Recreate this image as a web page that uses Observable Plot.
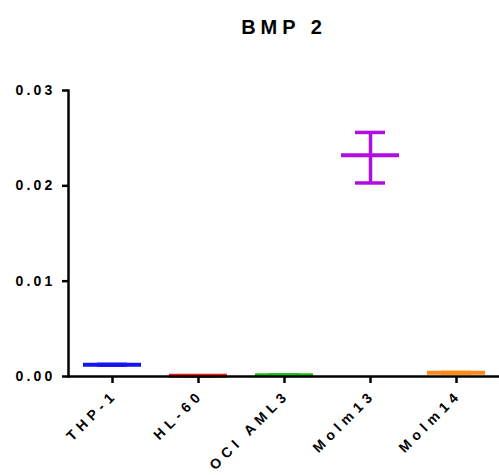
<!DOCTYPE html>
<html>
<head>
<meta charset="utf-8">
<script src="https://cdn.jsdelivr.net/npm/d3@7"></script>
<script src="https://cdn.jsdelivr.net/npm/@observablehq/plot@0.6"></script>
<style>
  body { margin: 0; background: #fff; }
  svg text { font-family: "Liberation Sans", Arial, sans-serif; font-weight: bold; letter-spacing: 3.2px; fill: #000; }
  svg [aria-label$="axis tick"] { stroke-width: 2.5px !important; stroke: #000; }
  svg [aria-label="frame"] { stroke-width: 2.5px !important; stroke: #000; }
  svg [aria-label="baseline"] { stroke-width: 2.5px !important; }
</style>
</head>
<body>
<div id="chart"></div>
<script>
const categories = ["THP-1", "HL-60", "OCI AML3", "Molm13", "Molm14"];
const means = [0.00123, 0.00007, 0.00014, 0.0232, 0.00039];
const upper = [0.00127, 0.00008, 0.00016, 0.0256, 0.00042];
const lower = [0.00119, 0.00006, 0.00012, 0.0203, 0.00036];
const colors = ["#1414f0", "#f01414", "#14c014", "#b00ee0", "#ff8a14"];
const yTicks = [0, 0.01, 0.02, 0.03];
const yTickLabels = ["0.00", "0.01", "0.02", "0.03"];
const title = "BMP 2";

const data = categories.map((c, i) => ({cat: c, mean: means[i], lo: lower[i], hi: upper[i], color: colors[i]}));

const chart = Plot.plot({
  width: 499,
  height: 475,
  marginLeft: 68,
  marginRight: 0,
  marginTop: 90,
  marginBottom: 99,
  x: {domain: categories, padding: 0},
  y: {domain: [0, 0.03]},
  style: {fontSize: "14px", background: "#fff"},
  marks: [
    Plot.ruleX(data, {x: "cat", y1: "lo", y2: "hi", stroke: "color", strokeWidth: 3.5}),
    Plot.tickY(data, {x: "cat", y: "hi", stroke: "color", strokeWidth: 3.5, insetLeft: 28, insetRight: 28}),
    Plot.tickY(data, {x: "cat", y: "lo", stroke: "color", strokeWidth: 3.5, insetLeft: 28, insetRight: 28}),
    Plot.tickY(data, {x: "cat", y: "mean", stroke: "color", strokeWidth: 4, insetLeft: 14, insetRight: 14}),
    Plot.axisY({ticks: yTicks, tickFormat: (d) => yTickLabels[yTicks.indexOf(d)], tickSize: 6, tickPadding: 7, strokeWidth: 2.5, label: null, fontSize: 14}),
    Plot.axisX({tickSize: 7, tickFormat: () => "", strokeWidth: 2.5, label: null}),
    Plot.text(categories, {x: (d) => d, frameAnchor: "bottom", rotate: -45, textAnchor: "end", lineAnchor: "bottom", dx: 6, dy: 19, fontSize: 14}),
    Plot.ruleY([0], {strokeWidth: 2.5, ariaLabel: "baseline"}),
    Plot.frame({anchor: "left", strokeWidth: 2.5, stroke: "black"}),
    Plot.text([title], {frameAnchor: "top", dy: -71, dx: 0, fontSize: 20})
  ]
});
const sel = d3.select(chart).selectAll("text");
sel.filter(function () { return this.textContent === title; })
  .style("font-size", "20px").style("letter-spacing", "5px");
sel.filter(function () { return categories.includes(this.textContent); })
  .style("font-size", "14px").style("letter-spacing", "5px");
document.getElementById("chart").appendChild(chart);
</script>
</body>
</html>
